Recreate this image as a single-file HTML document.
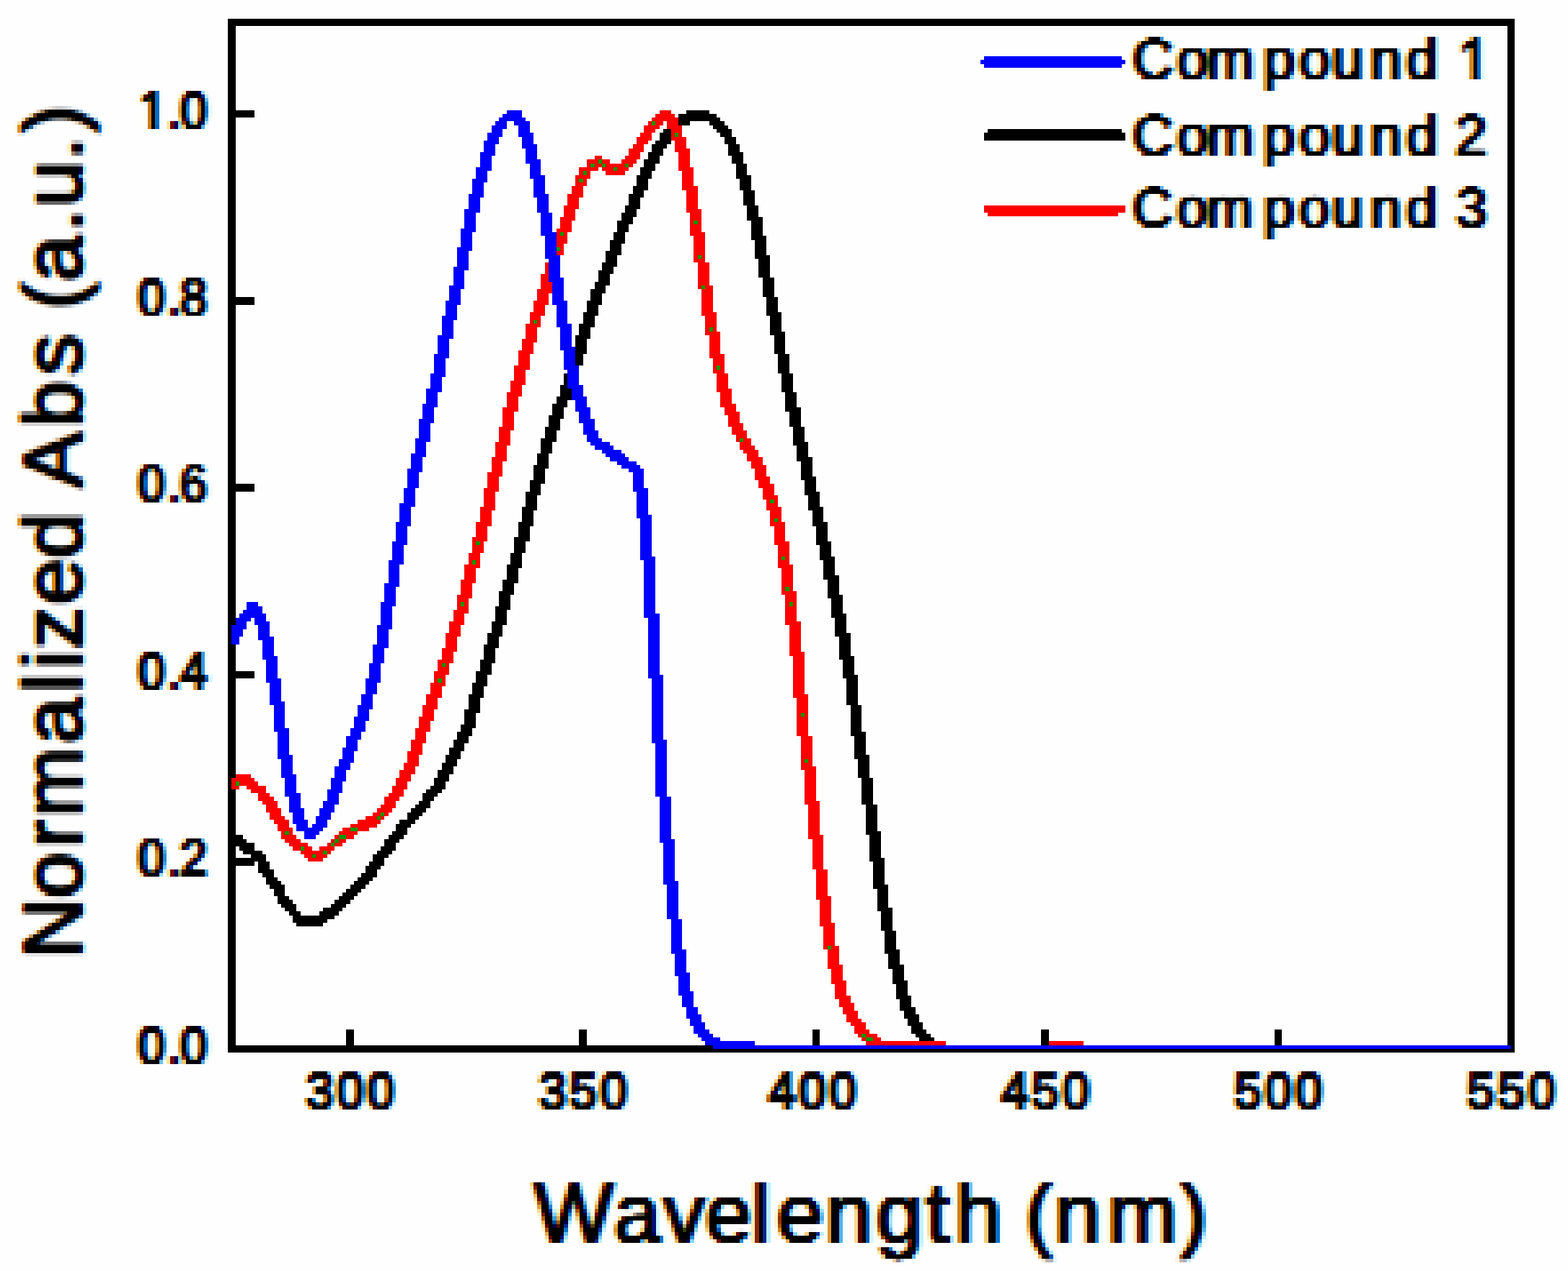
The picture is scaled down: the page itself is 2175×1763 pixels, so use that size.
<!DOCTYPE html>
<html lang="en"><head><meta charset="utf-8"><title>Normalized absorption spectra</title>
<style>html,body{margin:0;padding:0;background:#fefefe}body{width:2175px;height:1763px;overflow:hidden}svg{display:block}text{font-family:"Liberation Sans",Arial,Helvetica,sans-serif;fill:#000;font-kerning:none;text-rendering:geometricPrecision;white-space:pre}text{stroke:#000;stroke-linejoin:round}.tk{stroke-width:3px}.ti{stroke-width:2.5px}.lg{stroke-width:2.5px}</style></head><body>
<svg width="2175" height="1763" viewBox="0 0 2175 1763">
<defs><filter id="ct" filterUnits="userSpaceOnUse" x="170" y="0" width="2005" height="1763" color-interpolation-filters="sRGB">
<feFlood x="210" y="25" width="1" height="90" flood-color="rgb(204,0,0)" result="hc0"/>
<feFlood x="211" y="25" width="1" height="90" flood-color="rgb(172,0,0)" result="hc1"/>
<feFlood x="212" y="25" width="1" height="90" flood-color="rgb(140,0,0)" result="hc2"/>
<feFlood x="213" y="25" width="1" height="90" flood-color="rgb(108,0,0)" result="hc3"/>
<feFlood x="214" y="25" width="1" height="90" flood-color="rgb(76,0,0)" result="hc4"/>
<feFlood x="215" y="25" width="1" height="90" flood-color="rgb(204,0,0)" result="hc5"/>
<feFlood x="216" y="25" width="1" height="90" flood-color="rgb(172,0,0)" result="hc6"/>
<feFlood x="217" y="25" width="1" height="90" flood-color="rgb(140,0,0)" result="hc7"/>
<feFlood x="218" y="25" width="1" height="90" flood-color="rgb(108,0,0)" result="hc8"/>
<feFlood x="219" y="25" width="1" height="90" flood-color="rgb(76,0,0)" result="hc9"/>
<feFlood x="220" y="25" width="1" height="90" flood-color="rgb(45,0,0)" result="hc10"/>
<feFlood x="221" y="25" width="1" height="90" flood-color="rgb(204,0,0)" result="hc11"/>
<feFlood x="222" y="25" width="1" height="90" flood-color="rgb(172,0,0)" result="hc12"/>
<feFlood x="223" y="25" width="1" height="90" flood-color="rgb(140,0,0)" result="hc13"/>
<feFlood x="224" y="25" width="1" height="90" flood-color="rgb(108,0,0)" result="hc14"/>
<feFlood x="225" y="25" width="1" height="90" flood-color="rgb(76,0,0)" result="hc15"/>
<feFlood x="226" y="25" width="1" height="90" flood-color="rgb(204,0,0)" result="hc16"/>
<feFlood x="227" y="25" width="1" height="90" flood-color="rgb(172,0,0)" result="hc17"/>
<feFlood x="228" y="25" width="1" height="90" flood-color="rgb(140,0,0)" result="hc18"/>
<feFlood x="229" y="25" width="1" height="90" flood-color="rgb(108,0,0)" result="hc19"/>
<feFlood x="230" y="25" width="1" height="90" flood-color="rgb(76,0,0)" result="hc20"/>
<feFlood x="231" y="25" width="1" height="90" flood-color="rgb(204,0,0)" result="hc21"/>
<feFlood x="232" y="25" width="1" height="90" flood-color="rgb(172,0,0)" result="hc22"/>
<feFlood x="233" y="25" width="1" height="90" flood-color="rgb(140,0,0)" result="hc23"/>
<feFlood x="234" y="25" width="1" height="90" flood-color="rgb(108,0,0)" result="hc24"/>
<feFlood x="235" y="25" width="1" height="90" flood-color="rgb(76,0,0)" result="hc25"/>
<feFlood x="236" y="25" width="1" height="90" flood-color="rgb(204,0,0)" result="hc26"/>
<feFlood x="237" y="25" width="1" height="90" flood-color="rgb(172,0,0)" result="hc27"/>
<feFlood x="238" y="25" width="1" height="90" flood-color="rgb(140,0,0)" result="hc28"/>
<feFlood x="239" y="25" width="1" height="90" flood-color="rgb(108,0,0)" result="hc29"/>
<feFlood x="240" y="25" width="1" height="90" flood-color="rgb(76,0,0)" result="hc30"/>
<feFlood x="241" y="25" width="1" height="90" flood-color="rgb(45,0,0)" result="hc31"/>
<feFlood x="242" y="25" width="1" height="90" flood-color="rgb(204,0,0)" result="hc32"/>
<feFlood x="243" y="25" width="1" height="90" flood-color="rgb(172,0,0)" result="hc33"/>
<feFlood x="244" y="25" width="1" height="90" flood-color="rgb(140,0,0)" result="hc34"/>
<feFlood x="245" y="25" width="1" height="90" flood-color="rgb(108,0,0)" result="hc35"/>
<feFlood x="246" y="25" width="1" height="90" flood-color="rgb(76,0,0)" result="hc36"/>
<feFlood x="247" y="25" width="1" height="90" flood-color="rgb(204,0,0)" result="hc37"/>
<feFlood x="248" y="25" width="1" height="90" flood-color="rgb(172,0,0)" result="hc38"/>
<feFlood x="249" y="25" width="1" height="90" flood-color="rgb(140,0,0)" result="hc39"/>
<feFlood x="250" y="25" width="1" height="90" flood-color="rgb(108,0,0)" result="hc40"/>
<feFlood x="251" y="25" width="1" height="90" flood-color="rgb(76,0,0)" result="hc41"/>
<feFlood x="252" y="25" width="1" height="90" flood-color="rgb(204,0,0)" result="hc42"/>
<feFlood x="253" y="25" width="1" height="90" flood-color="rgb(172,0,0)" result="hc43"/>
<feFlood x="254" y="25" width="1" height="90" flood-color="rgb(140,0,0)" result="hc44"/>
<feFlood x="255" y="25" width="1" height="90" flood-color="rgb(108,0,0)" result="hc45"/>
<feFlood x="256" y="25" width="1" height="90" flood-color="rgb(76,0,0)" result="hc46"/>
<feFlood x="257" y="25" width="1" height="90" flood-color="rgb(45,0,0)" result="hc47"/>
<feFlood x="258" y="25" width="1" height="90" flood-color="rgb(204,0,0)" result="hc48"/>
<feFlood x="259" y="25" width="1" height="90" flood-color="rgb(172,0,0)" result="hc49"/>
<feFlood x="260" y="25" width="1" height="90" flood-color="rgb(140,0,0)" result="hc50"/>
<feFlood x="261" y="25" width="1" height="90" flood-color="rgb(108,0,0)" result="hc51"/>
<feFlood x="262" y="25" width="1" height="90" flood-color="rgb(76,0,0)" result="hc52"/>
<feMerge x="210" y="25" width="53" height="90" result="htx"><feMergeNode in="hc0"/><feMergeNode in="hc1"/><feMergeNode in="hc2"/><feMergeNode in="hc3"/><feMergeNode in="hc4"/><feMergeNode in="hc5"/><feMergeNode in="hc6"/><feMergeNode in="hc7"/><feMergeNode in="hc8"/><feMergeNode in="hc9"/><feMergeNode in="hc10"/><feMergeNode in="hc11"/><feMergeNode in="hc12"/><feMergeNode in="hc13"/><feMergeNode in="hc14"/><feMergeNode in="hc15"/><feMergeNode in="hc16"/><feMergeNode in="hc17"/><feMergeNode in="hc18"/><feMergeNode in="hc19"/><feMergeNode in="hc20"/><feMergeNode in="hc21"/><feMergeNode in="hc22"/><feMergeNode in="hc23"/><feMergeNode in="hc24"/><feMergeNode in="hc25"/><feMergeNode in="hc26"/><feMergeNode in="hc27"/><feMergeNode in="hc28"/><feMergeNode in="hc29"/><feMergeNode in="hc30"/><feMergeNode in="hc31"/><feMergeNode in="hc32"/><feMergeNode in="hc33"/><feMergeNode in="hc34"/><feMergeNode in="hc35"/><feMergeNode in="hc36"/><feMergeNode in="hc37"/><feMergeNode in="hc38"/><feMergeNode in="hc39"/><feMergeNode in="hc40"/><feMergeNode in="hc41"/><feMergeNode in="hc42"/><feMergeNode in="hc43"/><feMergeNode in="hc44"/><feMergeNode in="hc45"/><feMergeNode in="hc46"/><feMergeNode in="hc47"/><feMergeNode in="hc48"/><feMergeNode in="hc49"/><feMergeNode in="hc50"/><feMergeNode in="hc51"/><feMergeNode in="hc52"/></feMerge>
<feFlood x="210" y="25" width="53" height="1" flood-color="rgb(0,204,0)" result="hr0"/>
<feFlood x="210" y="26" width="53" height="1" flood-color="rgb(0,172,0)" result="hr1"/>
<feFlood x="210" y="27" width="53" height="1" flood-color="rgb(0,140,0)" result="hr2"/>
<feFlood x="210" y="28" width="53" height="1" flood-color="rgb(0,108,0)" result="hr3"/>
<feFlood x="210" y="29" width="53" height="1" flood-color="rgb(0,76,0)" result="hr4"/>
<feFlood x="210" y="30" width="53" height="1" flood-color="rgb(0,204,0)" result="hr5"/>
<feFlood x="210" y="31" width="53" height="1" flood-color="rgb(0,172,0)" result="hr6"/>
<feFlood x="210" y="32" width="53" height="1" flood-color="rgb(0,140,0)" result="hr7"/>
<feFlood x="210" y="33" width="53" height="1" flood-color="rgb(0,108,0)" result="hr8"/>
<feFlood x="210" y="34" width="53" height="1" flood-color="rgb(0,76,0)" result="hr9"/>
<feFlood x="210" y="35" width="53" height="1" flood-color="rgb(0,45,0)" result="hr10"/>
<feFlood x="210" y="36" width="53" height="1" flood-color="rgb(0,204,0)" result="hr11"/>
<feFlood x="210" y="37" width="53" height="1" flood-color="rgb(0,172,0)" result="hr12"/>
<feFlood x="210" y="38" width="53" height="1" flood-color="rgb(0,140,0)" result="hr13"/>
<feFlood x="210" y="39" width="53" height="1" flood-color="rgb(0,108,0)" result="hr14"/>
<feFlood x="210" y="40" width="53" height="1" flood-color="rgb(0,76,0)" result="hr15"/>
<feFlood x="210" y="41" width="53" height="1" flood-color="rgb(0,204,0)" result="hr16"/>
<feFlood x="210" y="42" width="53" height="1" flood-color="rgb(0,172,0)" result="hr17"/>
<feFlood x="210" y="43" width="53" height="1" flood-color="rgb(0,140,0)" result="hr18"/>
<feFlood x="210" y="44" width="53" height="1" flood-color="rgb(0,108,0)" result="hr19"/>
<feFlood x="210" y="45" width="53" height="1" flood-color="rgb(0,76,0)" result="hr20"/>
<feFlood x="210" y="46" width="53" height="1" flood-color="rgb(0,204,0)" result="hr21"/>
<feFlood x="210" y="47" width="53" height="1" flood-color="rgb(0,172,0)" result="hr22"/>
<feFlood x="210" y="48" width="53" height="1" flood-color="rgb(0,140,0)" result="hr23"/>
<feFlood x="210" y="49" width="53" height="1" flood-color="rgb(0,108,0)" result="hr24"/>
<feFlood x="210" y="50" width="53" height="1" flood-color="rgb(0,76,0)" result="hr25"/>
<feFlood x="210" y="51" width="53" height="1" flood-color="rgb(0,204,0)" result="hr26"/>
<feFlood x="210" y="52" width="53" height="1" flood-color="rgb(0,172,0)" result="hr27"/>
<feFlood x="210" y="53" width="53" height="1" flood-color="rgb(0,140,0)" result="hr28"/>
<feFlood x="210" y="54" width="53" height="1" flood-color="rgb(0,108,0)" result="hr29"/>
<feFlood x="210" y="55" width="53" height="1" flood-color="rgb(0,76,0)" result="hr30"/>
<feFlood x="210" y="56" width="53" height="1" flood-color="rgb(0,45,0)" result="hr31"/>
<feFlood x="210" y="57" width="53" height="1" flood-color="rgb(0,204,0)" result="hr32"/>
<feFlood x="210" y="58" width="53" height="1" flood-color="rgb(0,172,0)" result="hr33"/>
<feFlood x="210" y="59" width="53" height="1" flood-color="rgb(0,140,0)" result="hr34"/>
<feFlood x="210" y="60" width="53" height="1" flood-color="rgb(0,108,0)" result="hr35"/>
<feFlood x="210" y="61" width="53" height="1" flood-color="rgb(0,76,0)" result="hr36"/>
<feFlood x="210" y="62" width="53" height="1" flood-color="rgb(0,204,0)" result="hr37"/>
<feFlood x="210" y="63" width="53" height="1" flood-color="rgb(0,172,0)" result="hr38"/>
<feFlood x="210" y="64" width="53" height="1" flood-color="rgb(0,140,0)" result="hr39"/>
<feFlood x="210" y="65" width="53" height="1" flood-color="rgb(0,108,0)" result="hr40"/>
<feFlood x="210" y="66" width="53" height="1" flood-color="rgb(0,76,0)" result="hr41"/>
<feFlood x="210" y="67" width="53" height="1" flood-color="rgb(0,204,0)" result="hr42"/>
<feFlood x="210" y="68" width="53" height="1" flood-color="rgb(0,172,0)" result="hr43"/>
<feFlood x="210" y="69" width="53" height="1" flood-color="rgb(0,140,0)" result="hr44"/>
<feFlood x="210" y="70" width="53" height="1" flood-color="rgb(0,108,0)" result="hr45"/>
<feFlood x="210" y="71" width="53" height="1" flood-color="rgb(0,76,0)" result="hr46"/>
<feFlood x="210" y="72" width="53" height="1" flood-color="rgb(0,45,0)" result="hr47"/>
<feFlood x="210" y="73" width="53" height="1" flood-color="rgb(0,204,0)" result="hr48"/>
<feFlood x="210" y="74" width="53" height="1" flood-color="rgb(0,172,0)" result="hr49"/>
<feFlood x="210" y="75" width="53" height="1" flood-color="rgb(0,140,0)" result="hr50"/>
<feFlood x="210" y="76" width="53" height="1" flood-color="rgb(0,108,0)" result="hr51"/>
<feFlood x="210" y="77" width="53" height="1" flood-color="rgb(0,76,0)" result="hr52"/>
<feFlood x="210" y="78" width="53" height="1" flood-color="rgb(0,204,0)" result="hr53"/>
<feFlood x="210" y="79" width="53" height="1" flood-color="rgb(0,172,0)" result="hr54"/>
<feFlood x="210" y="80" width="53" height="1" flood-color="rgb(0,140,0)" result="hr55"/>
<feFlood x="210" y="81" width="53" height="1" flood-color="rgb(0,108,0)" result="hr56"/>
<feFlood x="210" y="82" width="53" height="1" flood-color="rgb(0,76,0)" result="hr57"/>
<feFlood x="210" y="83" width="53" height="1" flood-color="rgb(0,204,0)" result="hr58"/>
<feFlood x="210" y="84" width="53" height="1" flood-color="rgb(0,172,0)" result="hr59"/>
<feFlood x="210" y="85" width="53" height="1" flood-color="rgb(0,140,0)" result="hr60"/>
<feFlood x="210" y="86" width="53" height="1" flood-color="rgb(0,108,0)" result="hr61"/>
<feFlood x="210" y="87" width="53" height="1" flood-color="rgb(0,76,0)" result="hr62"/>
<feFlood x="210" y="88" width="53" height="1" flood-color="rgb(0,45,0)" result="hr63"/>
<feFlood x="210" y="89" width="53" height="1" flood-color="rgb(0,204,0)" result="hr64"/>
<feFlood x="210" y="90" width="53" height="1" flood-color="rgb(0,172,0)" result="hr65"/>
<feFlood x="210" y="91" width="53" height="1" flood-color="rgb(0,140,0)" result="hr66"/>
<feFlood x="210" y="92" width="53" height="1" flood-color="rgb(0,108,0)" result="hr67"/>
<feFlood x="210" y="93" width="53" height="1" flood-color="rgb(0,76,0)" result="hr68"/>
<feFlood x="210" y="94" width="53" height="1" flood-color="rgb(0,204,0)" result="hr69"/>
<feFlood x="210" y="95" width="53" height="1" flood-color="rgb(0,172,0)" result="hr70"/>
<feFlood x="210" y="96" width="53" height="1" flood-color="rgb(0,140,0)" result="hr71"/>
<feFlood x="210" y="97" width="53" height="1" flood-color="rgb(0,108,0)" result="hr72"/>
<feFlood x="210" y="98" width="53" height="1" flood-color="rgb(0,76,0)" result="hr73"/>
<feFlood x="210" y="99" width="53" height="1" flood-color="rgb(0,204,0)" result="hr74"/>
<feFlood x="210" y="100" width="53" height="1" flood-color="rgb(0,172,0)" result="hr75"/>
<feFlood x="210" y="101" width="53" height="1" flood-color="rgb(0,140,0)" result="hr76"/>
<feFlood x="210" y="102" width="53" height="1" flood-color="rgb(0,108,0)" result="hr77"/>
<feFlood x="210" y="103" width="53" height="1" flood-color="rgb(0,76,0)" result="hr78"/>
<feFlood x="210" y="104" width="53" height="1" flood-color="rgb(0,204,0)" result="hr79"/>
<feFlood x="210" y="105" width="53" height="1" flood-color="rgb(0,172,0)" result="hr80"/>
<feFlood x="210" y="106" width="53" height="1" flood-color="rgb(0,140,0)" result="hr81"/>
<feFlood x="210" y="107" width="53" height="1" flood-color="rgb(0,108,0)" result="hr82"/>
<feFlood x="210" y="108" width="53" height="1" flood-color="rgb(0,76,0)" result="hr83"/>
<feFlood x="210" y="109" width="53" height="1" flood-color="rgb(0,45,0)" result="hr84"/>
<feFlood x="210" y="110" width="53" height="1" flood-color="rgb(0,204,0)" result="hr85"/>
<feFlood x="210" y="111" width="53" height="1" flood-color="rgb(0,172,0)" result="hr86"/>
<feFlood x="210" y="112" width="53" height="1" flood-color="rgb(0,140,0)" result="hr87"/>
<feFlood x="210" y="113" width="53" height="1" flood-color="rgb(0,108,0)" result="hr88"/>
<feFlood x="210" y="114" width="53" height="1" flood-color="rgb(0,76,0)" result="hr89"/>
<feMerge x="210" y="25" width="53" height="90" result="hty"><feMergeNode in="hr0"/><feMergeNode in="hr1"/><feMergeNode in="hr2"/><feMergeNode in="hr3"/><feMergeNode in="hr4"/><feMergeNode in="hr5"/><feMergeNode in="hr6"/><feMergeNode in="hr7"/><feMergeNode in="hr8"/><feMergeNode in="hr9"/><feMergeNode in="hr10"/><feMergeNode in="hr11"/><feMergeNode in="hr12"/><feMergeNode in="hr13"/><feMergeNode in="hr14"/><feMergeNode in="hr15"/><feMergeNode in="hr16"/><feMergeNode in="hr17"/><feMergeNode in="hr18"/><feMergeNode in="hr19"/><feMergeNode in="hr20"/><feMergeNode in="hr21"/><feMergeNode in="hr22"/><feMergeNode in="hr23"/><feMergeNode in="hr24"/><feMergeNode in="hr25"/><feMergeNode in="hr26"/><feMergeNode in="hr27"/><feMergeNode in="hr28"/><feMergeNode in="hr29"/><feMergeNode in="hr30"/><feMergeNode in="hr31"/><feMergeNode in="hr32"/><feMergeNode in="hr33"/><feMergeNode in="hr34"/><feMergeNode in="hr35"/><feMergeNode in="hr36"/><feMergeNode in="hr37"/><feMergeNode in="hr38"/><feMergeNode in="hr39"/><feMergeNode in="hr40"/><feMergeNode in="hr41"/><feMergeNode in="hr42"/><feMergeNode in="hr43"/><feMergeNode in="hr44"/><feMergeNode in="hr45"/><feMergeNode in="hr46"/><feMergeNode in="hr47"/><feMergeNode in="hr48"/><feMergeNode in="hr49"/><feMergeNode in="hr50"/><feMergeNode in="hr51"/><feMergeNode in="hr52"/><feMergeNode in="hr53"/><feMergeNode in="hr54"/><feMergeNode in="hr55"/><feMergeNode in="hr56"/><feMergeNode in="hr57"/><feMergeNode in="hr58"/><feMergeNode in="hr59"/><feMergeNode in="hr60"/><feMergeNode in="hr61"/><feMergeNode in="hr62"/><feMergeNode in="hr63"/><feMergeNode in="hr64"/><feMergeNode in="hr65"/><feMergeNode in="hr66"/><feMergeNode in="hr67"/><feMergeNode in="hr68"/><feMergeNode in="hr69"/><feMergeNode in="hr70"/><feMergeNode in="hr71"/><feMergeNode in="hr72"/><feMergeNode in="hr73"/><feMergeNode in="hr74"/><feMergeNode in="hr75"/><feMergeNode in="hr76"/><feMergeNode in="hr77"/><feMergeNode in="hr78"/><feMergeNode in="hr79"/><feMergeNode in="hr80"/><feMergeNode in="hr81"/><feMergeNode in="hr82"/><feMergeNode in="hr83"/><feMergeNode in="hr84"/><feMergeNode in="hr85"/><feMergeNode in="hr86"/><feMergeNode in="hr87"/><feMergeNode in="hr88"/><feMergeNode in="hr89"/></feMerge>
<feComposite in="htx" in2="hty" operator="arithmetic" k1="0" k2="1" k3="1" k4="0" x="210" y="25" width="53" height="90" result="ht"/>
<feTile in="ht" x="170" y="0" width="2005" height="1763" result="map"/>
<feGaussianBlur in="SourceAlpha" stdDeviation="2.5 0.6" result="a0"/>
<feComponentTransfer in="a0" result="a"><feFuncA type="linear" slope="1.35" intercept="0"/></feComponentTransfer>
<feOffset in="a" dx="1.766" dy="0" result="ar"/>
<feOffset in="a" dx="-1.766" dy="0" result="ab"/>
<feDisplacementMap in="ar" in2="map" scale="8" xChannelSelector="R" yChannelSelector="G" result="pr"/>
<feDisplacementMap in="a" in2="map" scale="8" xChannelSelector="R" yChannelSelector="G" result="pg"/>
<feDisplacementMap in="ab" in2="map" scale="8" xChannelSelector="R" yChannelSelector="G" result="pb"/>
<feColorMatrix in="pr" type="matrix" values="0 0 0 -0.9961 0.9961  0 0 0 0 0  0 0 0 0 0  0 0 0 0 1" result="cr"/>
<feColorMatrix in="pg" type="matrix" values="0 0 0 0 0  0 0 0 -0.9961 0.9961  0 0 0 0 0  0 0 0 0 1" result="cg"/>
<feColorMatrix in="pb" type="matrix" values="0 0 0 0 0  0 0 0 0 0  0 0 0 -0.9961 0.9961  0 0 0 0 1" result="cb"/>
<feComposite in="cr" in2="cg" operator="arithmetic" k1="0" k2="1" k3="1" k4="0" result="rg"/>
<feComposite in="rg" in2="cb" operator="arithmetic" k1="0" k2="1" k3="1" k4="0"/>
</filter><filter id="cv" filterUnits="userSpaceOnUse" x="0" y="0" width="170" height="1763" color-interpolation-filters="sRGB">
<feFlood x="51" y="25" width="1" height="90" flood-color="rgb(204,0,0)" result="vc0"/>
<feFlood x="52" y="25" width="1" height="90" flood-color="rgb(172,0,0)" result="vc1"/>
<feFlood x="53" y="25" width="1" height="90" flood-color="rgb(140,0,0)" result="vc2"/>
<feFlood x="54" y="25" width="1" height="90" flood-color="rgb(108,0,0)" result="vc3"/>
<feFlood x="55" y="25" width="1" height="90" flood-color="rgb(76,0,0)" result="vc4"/>
<feFlood x="56" y="25" width="1" height="90" flood-color="rgb(204,0,0)" result="vc5"/>
<feFlood x="57" y="25" width="1" height="90" flood-color="rgb(172,0,0)" result="vc6"/>
<feFlood x="58" y="25" width="1" height="90" flood-color="rgb(140,0,0)" result="vc7"/>
<feFlood x="59" y="25" width="1" height="90" flood-color="rgb(108,0,0)" result="vc8"/>
<feFlood x="60" y="25" width="1" height="90" flood-color="rgb(76,0,0)" result="vc9"/>
<feFlood x="61" y="25" width="1" height="90" flood-color="rgb(45,0,0)" result="vc10"/>
<feFlood x="62" y="25" width="1" height="90" flood-color="rgb(204,0,0)" result="vc11"/>
<feFlood x="63" y="25" width="1" height="90" flood-color="rgb(172,0,0)" result="vc12"/>
<feFlood x="64" y="25" width="1" height="90" flood-color="rgb(140,0,0)" result="vc13"/>
<feFlood x="65" y="25" width="1" height="90" flood-color="rgb(108,0,0)" result="vc14"/>
<feFlood x="66" y="25" width="1" height="90" flood-color="rgb(76,0,0)" result="vc15"/>
<feFlood x="67" y="25" width="1" height="90" flood-color="rgb(204,0,0)" result="vc16"/>
<feFlood x="68" y="25" width="1" height="90" flood-color="rgb(172,0,0)" result="vc17"/>
<feFlood x="69" y="25" width="1" height="90" flood-color="rgb(140,0,0)" result="vc18"/>
<feFlood x="70" y="25" width="1" height="90" flood-color="rgb(108,0,0)" result="vc19"/>
<feFlood x="71" y="25" width="1" height="90" flood-color="rgb(76,0,0)" result="vc20"/>
<feFlood x="72" y="25" width="1" height="90" flood-color="rgb(204,0,0)" result="vc21"/>
<feFlood x="73" y="25" width="1" height="90" flood-color="rgb(172,0,0)" result="vc22"/>
<feFlood x="74" y="25" width="1" height="90" flood-color="rgb(140,0,0)" result="vc23"/>
<feFlood x="75" y="25" width="1" height="90" flood-color="rgb(108,0,0)" result="vc24"/>
<feFlood x="76" y="25" width="1" height="90" flood-color="rgb(76,0,0)" result="vc25"/>
<feFlood x="77" y="25" width="1" height="90" flood-color="rgb(204,0,0)" result="vc26"/>
<feFlood x="78" y="25" width="1" height="90" flood-color="rgb(172,0,0)" result="vc27"/>
<feFlood x="79" y="25" width="1" height="90" flood-color="rgb(140,0,0)" result="vc28"/>
<feFlood x="80" y="25" width="1" height="90" flood-color="rgb(108,0,0)" result="vc29"/>
<feFlood x="81" y="25" width="1" height="90" flood-color="rgb(76,0,0)" result="vc30"/>
<feFlood x="82" y="25" width="1" height="90" flood-color="rgb(45,0,0)" result="vc31"/>
<feFlood x="83" y="25" width="1" height="90" flood-color="rgb(204,0,0)" result="vc32"/>
<feFlood x="84" y="25" width="1" height="90" flood-color="rgb(172,0,0)" result="vc33"/>
<feFlood x="85" y="25" width="1" height="90" flood-color="rgb(140,0,0)" result="vc34"/>
<feFlood x="86" y="25" width="1" height="90" flood-color="rgb(108,0,0)" result="vc35"/>
<feFlood x="87" y="25" width="1" height="90" flood-color="rgb(76,0,0)" result="vc36"/>
<feFlood x="88" y="25" width="1" height="90" flood-color="rgb(204,0,0)" result="vc37"/>
<feFlood x="89" y="25" width="1" height="90" flood-color="rgb(172,0,0)" result="vc38"/>
<feFlood x="90" y="25" width="1" height="90" flood-color="rgb(140,0,0)" result="vc39"/>
<feFlood x="91" y="25" width="1" height="90" flood-color="rgb(108,0,0)" result="vc40"/>
<feFlood x="92" y="25" width="1" height="90" flood-color="rgb(76,0,0)" result="vc41"/>
<feFlood x="93" y="25" width="1" height="90" flood-color="rgb(204,0,0)" result="vc42"/>
<feFlood x="94" y="25" width="1" height="90" flood-color="rgb(172,0,0)" result="vc43"/>
<feFlood x="95" y="25" width="1" height="90" flood-color="rgb(140,0,0)" result="vc44"/>
<feFlood x="96" y="25" width="1" height="90" flood-color="rgb(108,0,0)" result="vc45"/>
<feFlood x="97" y="25" width="1" height="90" flood-color="rgb(76,0,0)" result="vc46"/>
<feFlood x="98" y="25" width="1" height="90" flood-color="rgb(45,0,0)" result="vc47"/>
<feFlood x="99" y="25" width="1" height="90" flood-color="rgb(204,0,0)" result="vc48"/>
<feFlood x="100" y="25" width="1" height="90" flood-color="rgb(172,0,0)" result="vc49"/>
<feFlood x="101" y="25" width="1" height="90" flood-color="rgb(140,0,0)" result="vc50"/>
<feFlood x="102" y="25" width="1" height="90" flood-color="rgb(108,0,0)" result="vc51"/>
<feFlood x="103" y="25" width="1" height="90" flood-color="rgb(76,0,0)" result="vc52"/>
<feMerge x="51" y="25" width="53" height="90" result="vtx"><feMergeNode in="vc0"/><feMergeNode in="vc1"/><feMergeNode in="vc2"/><feMergeNode in="vc3"/><feMergeNode in="vc4"/><feMergeNode in="vc5"/><feMergeNode in="vc6"/><feMergeNode in="vc7"/><feMergeNode in="vc8"/><feMergeNode in="vc9"/><feMergeNode in="vc10"/><feMergeNode in="vc11"/><feMergeNode in="vc12"/><feMergeNode in="vc13"/><feMergeNode in="vc14"/><feMergeNode in="vc15"/><feMergeNode in="vc16"/><feMergeNode in="vc17"/><feMergeNode in="vc18"/><feMergeNode in="vc19"/><feMergeNode in="vc20"/><feMergeNode in="vc21"/><feMergeNode in="vc22"/><feMergeNode in="vc23"/><feMergeNode in="vc24"/><feMergeNode in="vc25"/><feMergeNode in="vc26"/><feMergeNode in="vc27"/><feMergeNode in="vc28"/><feMergeNode in="vc29"/><feMergeNode in="vc30"/><feMergeNode in="vc31"/><feMergeNode in="vc32"/><feMergeNode in="vc33"/><feMergeNode in="vc34"/><feMergeNode in="vc35"/><feMergeNode in="vc36"/><feMergeNode in="vc37"/><feMergeNode in="vc38"/><feMergeNode in="vc39"/><feMergeNode in="vc40"/><feMergeNode in="vc41"/><feMergeNode in="vc42"/><feMergeNode in="vc43"/><feMergeNode in="vc44"/><feMergeNode in="vc45"/><feMergeNode in="vc46"/><feMergeNode in="vc47"/><feMergeNode in="vc48"/><feMergeNode in="vc49"/><feMergeNode in="vc50"/><feMergeNode in="vc51"/><feMergeNode in="vc52"/></feMerge>
<feFlood x="51" y="25" width="53" height="1" flood-color="rgb(0,204,0)" result="vr0"/>
<feFlood x="51" y="26" width="53" height="1" flood-color="rgb(0,172,0)" result="vr1"/>
<feFlood x="51" y="27" width="53" height="1" flood-color="rgb(0,140,0)" result="vr2"/>
<feFlood x="51" y="28" width="53" height="1" flood-color="rgb(0,108,0)" result="vr3"/>
<feFlood x="51" y="29" width="53" height="1" flood-color="rgb(0,76,0)" result="vr4"/>
<feFlood x="51" y="30" width="53" height="1" flood-color="rgb(0,204,0)" result="vr5"/>
<feFlood x="51" y="31" width="53" height="1" flood-color="rgb(0,172,0)" result="vr6"/>
<feFlood x="51" y="32" width="53" height="1" flood-color="rgb(0,140,0)" result="vr7"/>
<feFlood x="51" y="33" width="53" height="1" flood-color="rgb(0,108,0)" result="vr8"/>
<feFlood x="51" y="34" width="53" height="1" flood-color="rgb(0,76,0)" result="vr9"/>
<feFlood x="51" y="35" width="53" height="1" flood-color="rgb(0,45,0)" result="vr10"/>
<feFlood x="51" y="36" width="53" height="1" flood-color="rgb(0,204,0)" result="vr11"/>
<feFlood x="51" y="37" width="53" height="1" flood-color="rgb(0,172,0)" result="vr12"/>
<feFlood x="51" y="38" width="53" height="1" flood-color="rgb(0,140,0)" result="vr13"/>
<feFlood x="51" y="39" width="53" height="1" flood-color="rgb(0,108,0)" result="vr14"/>
<feFlood x="51" y="40" width="53" height="1" flood-color="rgb(0,76,0)" result="vr15"/>
<feFlood x="51" y="41" width="53" height="1" flood-color="rgb(0,204,0)" result="vr16"/>
<feFlood x="51" y="42" width="53" height="1" flood-color="rgb(0,172,0)" result="vr17"/>
<feFlood x="51" y="43" width="53" height="1" flood-color="rgb(0,140,0)" result="vr18"/>
<feFlood x="51" y="44" width="53" height="1" flood-color="rgb(0,108,0)" result="vr19"/>
<feFlood x="51" y="45" width="53" height="1" flood-color="rgb(0,76,0)" result="vr20"/>
<feFlood x="51" y="46" width="53" height="1" flood-color="rgb(0,204,0)" result="vr21"/>
<feFlood x="51" y="47" width="53" height="1" flood-color="rgb(0,172,0)" result="vr22"/>
<feFlood x="51" y="48" width="53" height="1" flood-color="rgb(0,140,0)" result="vr23"/>
<feFlood x="51" y="49" width="53" height="1" flood-color="rgb(0,108,0)" result="vr24"/>
<feFlood x="51" y="50" width="53" height="1" flood-color="rgb(0,76,0)" result="vr25"/>
<feFlood x="51" y="51" width="53" height="1" flood-color="rgb(0,204,0)" result="vr26"/>
<feFlood x="51" y="52" width="53" height="1" flood-color="rgb(0,172,0)" result="vr27"/>
<feFlood x="51" y="53" width="53" height="1" flood-color="rgb(0,140,0)" result="vr28"/>
<feFlood x="51" y="54" width="53" height="1" flood-color="rgb(0,108,0)" result="vr29"/>
<feFlood x="51" y="55" width="53" height="1" flood-color="rgb(0,76,0)" result="vr30"/>
<feFlood x="51" y="56" width="53" height="1" flood-color="rgb(0,45,0)" result="vr31"/>
<feFlood x="51" y="57" width="53" height="1" flood-color="rgb(0,204,0)" result="vr32"/>
<feFlood x="51" y="58" width="53" height="1" flood-color="rgb(0,172,0)" result="vr33"/>
<feFlood x="51" y="59" width="53" height="1" flood-color="rgb(0,140,0)" result="vr34"/>
<feFlood x="51" y="60" width="53" height="1" flood-color="rgb(0,108,0)" result="vr35"/>
<feFlood x="51" y="61" width="53" height="1" flood-color="rgb(0,76,0)" result="vr36"/>
<feFlood x="51" y="62" width="53" height="1" flood-color="rgb(0,204,0)" result="vr37"/>
<feFlood x="51" y="63" width="53" height="1" flood-color="rgb(0,172,0)" result="vr38"/>
<feFlood x="51" y="64" width="53" height="1" flood-color="rgb(0,140,0)" result="vr39"/>
<feFlood x="51" y="65" width="53" height="1" flood-color="rgb(0,108,0)" result="vr40"/>
<feFlood x="51" y="66" width="53" height="1" flood-color="rgb(0,76,0)" result="vr41"/>
<feFlood x="51" y="67" width="53" height="1" flood-color="rgb(0,204,0)" result="vr42"/>
<feFlood x="51" y="68" width="53" height="1" flood-color="rgb(0,172,0)" result="vr43"/>
<feFlood x="51" y="69" width="53" height="1" flood-color="rgb(0,140,0)" result="vr44"/>
<feFlood x="51" y="70" width="53" height="1" flood-color="rgb(0,108,0)" result="vr45"/>
<feFlood x="51" y="71" width="53" height="1" flood-color="rgb(0,76,0)" result="vr46"/>
<feFlood x="51" y="72" width="53" height="1" flood-color="rgb(0,45,0)" result="vr47"/>
<feFlood x="51" y="73" width="53" height="1" flood-color="rgb(0,204,0)" result="vr48"/>
<feFlood x="51" y="74" width="53" height="1" flood-color="rgb(0,172,0)" result="vr49"/>
<feFlood x="51" y="75" width="53" height="1" flood-color="rgb(0,140,0)" result="vr50"/>
<feFlood x="51" y="76" width="53" height="1" flood-color="rgb(0,108,0)" result="vr51"/>
<feFlood x="51" y="77" width="53" height="1" flood-color="rgb(0,76,0)" result="vr52"/>
<feFlood x="51" y="78" width="53" height="1" flood-color="rgb(0,204,0)" result="vr53"/>
<feFlood x="51" y="79" width="53" height="1" flood-color="rgb(0,172,0)" result="vr54"/>
<feFlood x="51" y="80" width="53" height="1" flood-color="rgb(0,140,0)" result="vr55"/>
<feFlood x="51" y="81" width="53" height="1" flood-color="rgb(0,108,0)" result="vr56"/>
<feFlood x="51" y="82" width="53" height="1" flood-color="rgb(0,76,0)" result="vr57"/>
<feFlood x="51" y="83" width="53" height="1" flood-color="rgb(0,204,0)" result="vr58"/>
<feFlood x="51" y="84" width="53" height="1" flood-color="rgb(0,172,0)" result="vr59"/>
<feFlood x="51" y="85" width="53" height="1" flood-color="rgb(0,140,0)" result="vr60"/>
<feFlood x="51" y="86" width="53" height="1" flood-color="rgb(0,108,0)" result="vr61"/>
<feFlood x="51" y="87" width="53" height="1" flood-color="rgb(0,76,0)" result="vr62"/>
<feFlood x="51" y="88" width="53" height="1" flood-color="rgb(0,45,0)" result="vr63"/>
<feFlood x="51" y="89" width="53" height="1" flood-color="rgb(0,204,0)" result="vr64"/>
<feFlood x="51" y="90" width="53" height="1" flood-color="rgb(0,172,0)" result="vr65"/>
<feFlood x="51" y="91" width="53" height="1" flood-color="rgb(0,140,0)" result="vr66"/>
<feFlood x="51" y="92" width="53" height="1" flood-color="rgb(0,108,0)" result="vr67"/>
<feFlood x="51" y="93" width="53" height="1" flood-color="rgb(0,76,0)" result="vr68"/>
<feFlood x="51" y="94" width="53" height="1" flood-color="rgb(0,204,0)" result="vr69"/>
<feFlood x="51" y="95" width="53" height="1" flood-color="rgb(0,172,0)" result="vr70"/>
<feFlood x="51" y="96" width="53" height="1" flood-color="rgb(0,140,0)" result="vr71"/>
<feFlood x="51" y="97" width="53" height="1" flood-color="rgb(0,108,0)" result="vr72"/>
<feFlood x="51" y="98" width="53" height="1" flood-color="rgb(0,76,0)" result="vr73"/>
<feFlood x="51" y="99" width="53" height="1" flood-color="rgb(0,204,0)" result="vr74"/>
<feFlood x="51" y="100" width="53" height="1" flood-color="rgb(0,172,0)" result="vr75"/>
<feFlood x="51" y="101" width="53" height="1" flood-color="rgb(0,140,0)" result="vr76"/>
<feFlood x="51" y="102" width="53" height="1" flood-color="rgb(0,108,0)" result="vr77"/>
<feFlood x="51" y="103" width="53" height="1" flood-color="rgb(0,76,0)" result="vr78"/>
<feFlood x="51" y="104" width="53" height="1" flood-color="rgb(0,204,0)" result="vr79"/>
<feFlood x="51" y="105" width="53" height="1" flood-color="rgb(0,172,0)" result="vr80"/>
<feFlood x="51" y="106" width="53" height="1" flood-color="rgb(0,140,0)" result="vr81"/>
<feFlood x="51" y="107" width="53" height="1" flood-color="rgb(0,108,0)" result="vr82"/>
<feFlood x="51" y="108" width="53" height="1" flood-color="rgb(0,76,0)" result="vr83"/>
<feFlood x="51" y="109" width="53" height="1" flood-color="rgb(0,45,0)" result="vr84"/>
<feFlood x="51" y="110" width="53" height="1" flood-color="rgb(0,204,0)" result="vr85"/>
<feFlood x="51" y="111" width="53" height="1" flood-color="rgb(0,172,0)" result="vr86"/>
<feFlood x="51" y="112" width="53" height="1" flood-color="rgb(0,140,0)" result="vr87"/>
<feFlood x="51" y="113" width="53" height="1" flood-color="rgb(0,108,0)" result="vr88"/>
<feFlood x="51" y="114" width="53" height="1" flood-color="rgb(0,76,0)" result="vr89"/>
<feMerge x="51" y="25" width="53" height="90" result="vty"><feMergeNode in="vr0"/><feMergeNode in="vr1"/><feMergeNode in="vr2"/><feMergeNode in="vr3"/><feMergeNode in="vr4"/><feMergeNode in="vr5"/><feMergeNode in="vr6"/><feMergeNode in="vr7"/><feMergeNode in="vr8"/><feMergeNode in="vr9"/><feMergeNode in="vr10"/><feMergeNode in="vr11"/><feMergeNode in="vr12"/><feMergeNode in="vr13"/><feMergeNode in="vr14"/><feMergeNode in="vr15"/><feMergeNode in="vr16"/><feMergeNode in="vr17"/><feMergeNode in="vr18"/><feMergeNode in="vr19"/><feMergeNode in="vr20"/><feMergeNode in="vr21"/><feMergeNode in="vr22"/><feMergeNode in="vr23"/><feMergeNode in="vr24"/><feMergeNode in="vr25"/><feMergeNode in="vr26"/><feMergeNode in="vr27"/><feMergeNode in="vr28"/><feMergeNode in="vr29"/><feMergeNode in="vr30"/><feMergeNode in="vr31"/><feMergeNode in="vr32"/><feMergeNode in="vr33"/><feMergeNode in="vr34"/><feMergeNode in="vr35"/><feMergeNode in="vr36"/><feMergeNode in="vr37"/><feMergeNode in="vr38"/><feMergeNode in="vr39"/><feMergeNode in="vr40"/><feMergeNode in="vr41"/><feMergeNode in="vr42"/><feMergeNode in="vr43"/><feMergeNode in="vr44"/><feMergeNode in="vr45"/><feMergeNode in="vr46"/><feMergeNode in="vr47"/><feMergeNode in="vr48"/><feMergeNode in="vr49"/><feMergeNode in="vr50"/><feMergeNode in="vr51"/><feMergeNode in="vr52"/><feMergeNode in="vr53"/><feMergeNode in="vr54"/><feMergeNode in="vr55"/><feMergeNode in="vr56"/><feMergeNode in="vr57"/><feMergeNode in="vr58"/><feMergeNode in="vr59"/><feMergeNode in="vr60"/><feMergeNode in="vr61"/><feMergeNode in="vr62"/><feMergeNode in="vr63"/><feMergeNode in="vr64"/><feMergeNode in="vr65"/><feMergeNode in="vr66"/><feMergeNode in="vr67"/><feMergeNode in="vr68"/><feMergeNode in="vr69"/><feMergeNode in="vr70"/><feMergeNode in="vr71"/><feMergeNode in="vr72"/><feMergeNode in="vr73"/><feMergeNode in="vr74"/><feMergeNode in="vr75"/><feMergeNode in="vr76"/><feMergeNode in="vr77"/><feMergeNode in="vr78"/><feMergeNode in="vr79"/><feMergeNode in="vr80"/><feMergeNode in="vr81"/><feMergeNode in="vr82"/><feMergeNode in="vr83"/><feMergeNode in="vr84"/><feMergeNode in="vr85"/><feMergeNode in="vr86"/><feMergeNode in="vr87"/><feMergeNode in="vr88"/><feMergeNode in="vr89"/></feMerge>
<feComposite in="vtx" in2="vty" operator="arithmetic" k1="0" k2="1" k3="1" k4="0" x="51" y="25" width="53" height="90" result="vt"/>
<feTile in="vt" x="0" y="0" width="170" height="1763" result="map"/>
<feGaussianBlur in="SourceAlpha" stdDeviation="2 2" result="a0"/>
<feComponentTransfer in="a0" result="a"><feFuncA type="linear" slope="1.35" intercept="0"/></feComponentTransfer>
<feOffset in="a" dx="1.766" dy="0" result="ar"/>
<feOffset in="a" dx="-1.766" dy="0" result="ab"/>
<feDisplacementMap in="ar" in2="map" scale="8" xChannelSelector="R" yChannelSelector="G" result="pr"/>
<feDisplacementMap in="a" in2="map" scale="8" xChannelSelector="R" yChannelSelector="G" result="pg"/>
<feDisplacementMap in="ab" in2="map" scale="8" xChannelSelector="R" yChannelSelector="G" result="pb"/>
<feColorMatrix in="pr" type="matrix" values="0 0 0 -0.9961 0.9961  0 0 0 0 0  0 0 0 0 0  0 0 0 0 1" result="cr"/>
<feColorMatrix in="pg" type="matrix" values="0 0 0 0 0  0 0 0 -0.9961 0.9961  0 0 0 0 0  0 0 0 0 1" result="cg"/>
<feColorMatrix in="pb" type="matrix" values="0 0 0 0 0  0 0 0 0 0  0 0 0 -0.9961 0.9961  0 0 0 0 1" result="cb"/>
<feComposite in="cr" in2="cg" operator="arithmetic" k1="0" k2="1" k3="1" k4="0" result="rg"/>
<feComposite in="rg" in2="cb" operator="arithmetic" k1="0" k2="1" k3="1" k4="0"/>
</filter><clipPath id="k0" clipPathUnits="userSpaceOnUse"><path clip-rule="evenodd" d="M-9000 -9000H9000V9000H-9000ZM204.54 -9.99H225.1V10.5H204.54ZM234.79 -9.99H253.78V10.5H234.79Z"/></clipPath><clipPath id="k1" clipPathUnits="userSpaceOnUse"><path clip-rule="evenodd" d="M-9000 -9000H9000V9000H-9000ZM2018.88 99.27H2041.53V119.72H2018.88ZM2051.26 99.27H2072.21V119.72H2051.26Z"/></clipPath></defs>
<rect width="2175" height="1763" fill="#fefefe"/>
<g filter="url(#ct)">
<text class="tk" font-size="73.5" transform="translate(0 1538.3) scale(0.925 1)" x="458.8 504.43 550.26" y="0">300</text>
<text class="tk" font-size="73.5" transform="translate(0 1538.3) scale(0.925 1)" x="808.21 853.9 899.67" y="0">350</text>
<text class="tk" font-size="73.5" transform="translate(0 1538.3) scale(0.925 1)" x="1151.9 1197.4 1243.24" y="0">400</text>
<text class="tk" font-size="73.5" transform="translate(0 1538.3) scale(0.925 1)" x="1501.2 1546.88 1592.64" y="0">450</text>
<text class="tk" font-size="73.5" transform="translate(0 1538.3) scale(0.925 1)" x="1850.44 1896.1 1941.94" y="0">500</text>
<text class="tk" font-size="73.5" transform="translate(0 1538.3) scale(0.925 1)" x="2199.74 2245.58 2291.35" y="0">550</text>
<text class="tk" font-size="73.5" clip-path="url(#k0)" transform="translate(0 178.3) scale(0.925 1)" x="208.21 251.2 269.62" y="0">1.0</text>
<text class="tk" font-size="73.5" transform="translate(0 437.3) scale(0.925 1)" x="206.59 251.2 269.62" y="0">0.8</text>
<text class="tk" font-size="73.5" transform="translate(0 696.3) scale(0.925 1)" x="206.59 251.2 269.36" y="0">0.6</text>
<text class="tk" font-size="73.5" transform="translate(0 956.3) scale(0.925 1)" x="206.59 251.2 269.85" y="0">0.4</text>
<text class="tk" font-size="73.5" transform="translate(0 1215.3) scale(0.925 1)" x="206.59 251.2 269.62" y="0">0.2</text>
<text class="tk" font-size="73.5" transform="translate(0 1475.3) scale(0.925 1)" x="206.59 251.2 269.62" y="0">0.0</text>
<text class="ti" font-size="116.4" x="740.86 850.96 919.65 977.8 1042.09 1076.95 1145.05 1215.04 1284.33 1324.38 1389.11 1421.8 1462.25 1536.04 1635.59" y="1723.11">Wavelength (nm)</text>
<text class="lg" font-size="79.6" clip-path="url(#k1)" x="1570.26 1631.66 1672.71 1751.87 1801.26 1847.03 1900.11 1949.66 1993.93 2022.86" y="109.47">Compound 1</text>
<text class="lg" font-size="79.6" x="1570.26 1631.66 1672.71 1751.87 1801.26 1847.03 1900.11 1949.66 1993.93 2018.1" y="215.47">Compound 2</text>
<text class="lg" font-size="78" x="1570.34 1631.72 1672.82 1751.97 1801.32 1847.13 1900.22 1949.72 1993.1 2019.13" y="315.49">Compound 3</text>
</g>
<g filter="url(#cv)">
<text class="ti" font-size="116.4" transform="translate(113.3 0) rotate(-90)" x="-1329.55 -1246.29 -1175.73 -1133.13 -1032.04 -960.04 -927.89 -899.82 -839.24 -774.89 -710.15 -676.73 -592.4 -520.74 -462.54 -429.62 -391.04 -321.73 -287.56 -221.43 -184.58" y="0">Normalized Abs (a.u.)</text>
</g>
<g shape-rendering="crispEdges">
<path fill="#000" d="M316 25.5H2101.29V36.09H316ZM316 1449.59H2101.29V1460.17H316ZM316 25.5H326.6V1460.17H316ZM2090.7 25.5H2101.29V1460.17H2090.7ZM480.23 1428.41H490.82V1449.59H480.23ZM803.38 1428.41H813.97V1449.59H803.38ZM1126.53 1428.41H1137.13V1449.59H1126.53ZM1444.39 1428.41H1454.98V1449.59H1444.39ZM1767.54 1428.41H1778.14V1449.59H1767.54ZM326.6 152.56H353.08V163.14H326.6ZM326.6 411.96H353.08V422.55H326.6ZM326.6 671.37H353.08V681.96H326.6ZM326.6 930.77H353.08V941.36H326.6ZM326.6 1190.18H353.08V1200.77H326.6Z"/>
<path fill="#000" d="M951.71 152.56H983.5V157.85H951.71ZM941.12 157.85H994.09V163.14H941.12ZM935.82 163.14H999.39V168.44H935.82ZM930.52 168.44H957.01V173.73H930.52ZM983.5 168.44H1004.69V173.73H983.5ZM925.22 173.73H946.41V179.03H925.22ZM988.8 173.73H1009.99V179.03H988.8ZM919.93 179.03H935.82V184.32H919.93ZM994.09 179.03H1015.28V184.32H994.09ZM914.63 184.32H935.82V189.61H914.63ZM999.39 184.32H1015.28V189.61H999.39ZM914.63 189.61H930.52V194.91H914.63ZM1004.69 189.61H1020.58V200.2H1004.69ZM909.33 194.91H930.52V200.2H909.33ZM904.03 200.2H925.22V205.5H904.03ZM1009.99 200.2H1025.88V210.79H1009.99ZM904.03 205.5H919.93V210.79H904.03ZM898.74 210.79H919.93V216.08H898.74ZM1009.99 210.79H1031.18V216.08H1009.99ZM898.74 216.08H914.63V221.38H898.74ZM1015.28 216.08H1031.18V226.67H1015.28ZM893.44 221.38H914.63V226.67H893.44ZM893.44 226.67H909.33V231.97H893.44ZM1020.58 226.67H1036.47V242.55H1020.58ZM888.14 231.97H909.33V237.26H888.14ZM888.14 237.26H904.03V242.55H888.14ZM882.84 242.55H904.03V247.85H882.84ZM1020.58 242.55H1041.77V247.85H1020.58ZM882.84 247.85H898.74V258.44H882.84ZM1025.88 247.85H1041.77V263.73H1025.88ZM877.55 258.44H898.74V263.73H877.55ZM877.55 263.73H893.44V269.02H877.55ZM1031.18 263.73H1047.07V284.91H1031.18ZM872.25 269.02H893.44V274.32H872.25ZM872.25 274.32H888.14V284.91H872.25ZM866.95 284.91H888.14V290.2H866.95ZM1036.47 284.91H1052.37V300.79H1036.47ZM866.95 290.2H882.84V295.49H866.95ZM861.65 295.49H882.84V300.79H861.65ZM861.65 300.79H877.55V306.08H861.65ZM1036.47 300.79H1057.66V306.08H1036.47ZM856.36 306.08H877.55V311.38H856.36ZM1041.77 306.08H1057.66V327.26H1041.77ZM856.36 311.38H872.25V321.96H856.36ZM851.06 321.96H866.95V332.55H851.06ZM1041.77 327.26H1062.96V332.55H1041.77ZM845.76 332.55H866.95V337.85H845.76ZM1047.07 332.55H1062.96V353.73H1047.07ZM845.76 337.85H861.65V348.43H845.76ZM840.46 348.43H861.65V353.73H840.46ZM840.46 353.73H856.36V364.32H840.46ZM1047.07 353.73H1068.26V359.02H1047.07ZM1052.37 359.02H1068.26V385.49H1052.37ZM835.16 364.32H856.36V369.61H835.16ZM835.16 369.61H851.06V374.9H835.16ZM829.87 374.9H851.06V380.2H829.87ZM829.87 380.2H845.76V390.79H829.87ZM1057.66 385.49H1073.56V411.96H1057.66ZM824.57 390.79H845.76V396.08H824.57ZM824.57 396.08H840.46V401.37H824.57ZM819.27 401.37H840.46V406.67H819.27ZM819.27 406.67H835.16V417.26H819.27ZM1062.96 411.96H1078.85V433.14H1062.96ZM813.97 417.26H835.16V422.55H813.97ZM813.97 422.55H829.87V433.14H813.97ZM808.68 433.14H829.87V438.43H808.68ZM1062.96 433.14H1084.15V438.43H1062.96ZM808.68 438.43H824.57V449.02H808.68ZM1068.26 438.43H1084.15V459.61H1068.26ZM803.38 449.02H824.57V454.31H803.38ZM803.38 454.31H819.27V464.9H803.38ZM1068.26 459.61H1089.45V464.9H1068.26ZM798.08 464.9H819.27V470.2H798.08ZM1073.56 464.9H1089.45V491.37H1073.56ZM798.08 470.2H813.97V486.08H798.08ZM792.78 486.08H813.97V491.37H792.78ZM792.78 491.37H808.68V501.96H792.78ZM1078.85 491.37H1094.75V517.84H1078.85ZM787.49 501.96H808.68V507.25H787.49ZM787.49 507.25H803.38V517.84H787.49ZM782.19 517.84H803.38V523.14H782.19ZM1084.15 517.84H1100.04V544.31H1084.15ZM782.19 523.14H798.08V533.72H782.19ZM776.89 533.72H798.08V539.02H776.89ZM776.89 539.02H792.78V549.61H776.89ZM1089.45 544.31H1105.34V565.49H1089.45ZM771.59 549.61H792.78V554.9H771.59ZM771.59 554.9H787.49V560.19H771.59ZM766.3 560.19H787.49V565.49H766.3ZM766.3 565.49H782.19V576.08H766.3ZM1089.45 565.49H1110.64V570.78H1089.45ZM1094.75 570.78H1110.64V591.96H1094.75ZM761 576.08H782.19V581.37H761ZM761 581.37H776.89V591.96H761ZM755.7 591.96H776.89V597.25H755.7ZM1100.04 591.96H1115.94V613.13H1100.04ZM755.7 597.25H771.59V607.84H755.7ZM750.4 607.84H771.59V613.13H750.4ZM750.4 613.13H766.3V629.02H750.4ZM1100.04 613.13H1121.24V618.43H1100.04ZM1105.34 618.43H1121.24V634.31H1105.34ZM745.11 629.02H761V644.9H745.11ZM1105.34 634.31H1126.53V639.6H1105.34ZM1110.64 639.6H1126.53V660.78H1110.64ZM739.81 644.9H761V650.19H739.81ZM739.81 650.19H755.7V666.07H739.81ZM1110.64 660.78H1131.83V666.07H1110.64ZM734.51 666.07H755.7V671.37H734.51ZM1115.94 666.07H1131.83V681.96H1115.94ZM734.51 671.37H750.4V681.96H734.51ZM729.21 681.96H750.4V687.25H729.21ZM1115.94 681.96H1137.13V687.25H1115.94ZM729.21 687.25H745.11V703.13H729.21ZM1121.24 687.25H1137.13V703.13H1121.24ZM723.92 703.13H745.11V708.43H723.92ZM1121.24 703.13H1142.43V708.43H1121.24ZM723.92 708.43H739.81V724.31H723.92ZM1126.53 708.43H1142.43V724.31H1126.53ZM718.62 724.31H739.81V729.6H718.62ZM1126.53 724.31H1147.72V729.6H1126.53ZM718.62 729.6H734.51V745.48H718.62ZM1131.83 729.6H1147.72V750.78H1131.83ZM713.32 745.48H734.51V750.78H713.32ZM713.32 750.78H729.21V766.66H713.32ZM1131.83 750.78H1153.02V756.07H1131.83ZM1137.13 756.07H1153.02V771.95H1137.13ZM708.02 766.66H723.92V782.54H708.02ZM1137.13 771.95H1158.32V777.25H1137.13ZM1142.43 777.25H1158.32V798.42H1142.43ZM702.72 782.54H723.92V787.84H702.72ZM702.72 787.84H718.62V803.72H702.72ZM1142.43 798.42H1163.62V803.72H1142.43ZM697.43 803.72H718.62V809.01H697.43ZM1147.72 803.72H1163.62V824.89H1147.72ZM697.43 809.01H713.32V819.6H697.43ZM692.13 819.6H713.32V824.89H692.13ZM692.13 824.89H708.02V840.78H692.13ZM1147.72 824.89H1168.91V830.19H1147.72ZM1153.02 830.19H1168.91V851.36H1153.02ZM686.83 840.78H708.02V846.07H686.83ZM686.83 846.07H702.72V861.95H686.83ZM1153.02 851.36H1174.21V856.66H1153.02ZM1158.32 856.66H1174.21V877.83H1158.32ZM681.53 861.95H702.72V867.25H681.53ZM681.53 867.25H697.43V877.83H681.53ZM676.24 877.83H697.43V883.13H676.24ZM1158.32 877.83H1179.51V883.13H1158.32ZM676.24 883.13H692.13V893.72H676.24ZM1163.62 883.13H1179.51V909.6H1163.62ZM670.94 893.72H692.13V899.01H670.94ZM670.94 899.01H686.83V914.89H670.94ZM1163.62 909.6H1184.81V914.89H1163.62ZM665.64 914.89H686.83V920.19H665.64ZM1168.91 914.89H1184.81V936.07H1168.91ZM665.64 920.19H681.53V930.77H665.64ZM660.34 930.77H681.53V936.07H660.34ZM660.34 936.07H676.24V946.66H660.34ZM1168.91 936.07H1190.1V941.36H1168.91ZM1174.21 941.36H1190.1V978.42H1174.21ZM655.05 946.66H676.24V951.95H655.05ZM655.05 951.95H670.94V962.54H655.05ZM649.75 962.54H670.94V967.83H649.75ZM649.75 967.83H665.64V983.71H649.75ZM1179.51 978.42H1195.4V1015.48H1179.51ZM644.45 983.71H665.64V989.01H644.45ZM644.45 989.01H660.34V1004.89H644.45ZM639.15 1004.89H660.34V1010.18H639.15ZM639.15 1010.18H655.05V1015.48H639.15ZM633.86 1015.48H655.05V1020.77H633.86ZM1179.51 1015.48H1200.7V1020.77H1179.51ZM633.86 1020.77H649.75V1026.07H633.86ZM1184.81 1020.77H1200.7V1047.24H1184.81ZM628.56 1026.07H649.75V1031.36H628.56ZM628.56 1031.36H644.45V1036.65H628.56ZM623.26 1036.65H644.45V1041.95H623.26ZM623.26 1041.95H639.15V1047.24H623.26ZM617.96 1047.24H639.15V1052.54H617.96ZM1184.81 1047.24H1206V1052.54H1184.81ZM617.96 1052.54H633.86V1057.83H617.96ZM1190.1 1052.54H1206V1079.01H1190.1ZM612.67 1057.83H633.86V1063.12H612.67ZM612.67 1063.12H628.56V1068.42H612.67ZM607.37 1068.42H628.56V1073.71H607.37ZM607.37 1073.71H623.26V1079.01H607.37ZM602.07 1079.01H623.26V1084.3H602.07ZM1195.4 1079.01H1211.29V1116.06H1195.4ZM602.07 1084.3H617.96V1089.59H602.07ZM596.77 1089.59H617.96V1094.89H596.77ZM591.48 1094.89H612.67V1100.18H591.48ZM586.18 1100.18H607.37V1105.48H586.18ZM586.18 1105.48H602.07V1110.77H586.18ZM580.88 1110.77H596.77V1116.06H580.88ZM575.58 1116.06H596.77V1121.36H575.58ZM1200.7 1116.06H1216.59V1153.12H1200.7ZM570.28 1121.36H591.48V1126.65H570.28ZM564.99 1126.65H586.18V1131.95H564.99ZM564.99 1131.95H580.88V1137.24H564.99ZM554.39 1137.24H575.58V1142.53H554.39ZM549.09 1142.53H570.28V1147.83H549.09ZM549.09 1147.83H564.99V1153.12H549.09ZM543.8 1153.12H564.99V1158.42H543.8ZM1200.7 1153.12H1221.89V1158.42H1200.7ZM321.3 1158.42H337.19V1163.71H321.3ZM538.5 1158.42H559.69V1163.71H538.5ZM1206 1158.42H1221.89V1190.18H1206ZM321.3 1163.71H342.49V1169H321.3ZM533.2 1163.71H554.39V1169H533.2ZM321.3 1169H353.08V1174.3H321.3ZM533.2 1169H549.09V1174.3H533.2ZM331.89 1174.3H353.08V1179.59H331.89ZM527.9 1174.3H549.09V1179.59H527.9ZM337.19 1179.59H363.68V1184.89H337.19ZM522.61 1179.59H543.8V1184.89H522.61ZM347.79 1184.89H368.98V1190.18H347.79ZM517.31 1184.89H538.5V1190.18H517.31ZM353.08 1190.18H368.98V1195.47H353.08ZM517.31 1190.18H533.2V1195.47H517.31ZM1206 1190.18H1227.19V1195.47H1206ZM358.38 1195.47H374.27V1206.06H358.38ZM512.01 1195.47H533.2V1200.77H512.01ZM1211.29 1195.47H1227.19V1227.24H1211.29ZM506.71 1200.77H527.9V1206.06H506.71ZM358.38 1206.06H379.57V1211.36H358.38ZM506.71 1206.06H522.61V1211.36H506.71ZM363.68 1211.36H379.57V1216.65H363.68ZM501.42 1211.36H522.61V1216.65H501.42ZM368.98 1216.65H384.87V1221.94H368.98ZM496.12 1216.65H517.31V1221.94H496.12ZM368.98 1221.94H390.17V1227.24H368.98ZM490.82 1221.94H512.01V1227.24H490.82ZM374.27 1227.24H395.46V1232.53H374.27ZM485.52 1227.24H506.71V1232.53H485.52ZM1211.29 1227.24H1232.48V1232.53H1211.29ZM379.57 1232.53H395.46V1243.12H379.57ZM480.23 1232.53H501.42V1237.83H480.23ZM1216.59 1232.53H1232.48V1259H1216.59ZM474.93 1237.83H496.12V1243.12H474.93ZM384.87 1243.12H400.76V1248.41H384.87ZM469.63 1243.12H490.82V1248.41H469.63ZM384.87 1248.41H406.06V1253.71H384.87ZM464.33 1248.41H485.52V1253.71H464.33ZM390.17 1253.71H411.36V1259H390.17ZM459.04 1253.71H480.23V1259H459.04ZM395.46 1259H411.36V1264.3H395.46ZM448.44 1259H474.93V1264.3H448.44ZM1216.59 1259H1237.78V1264.3H1216.59ZM400.76 1264.3H416.65V1269.59H400.76ZM443.14 1264.3H469.63V1269.59H443.14ZM1221.89 1264.3H1237.78V1290.77H1221.89ZM406.06 1269.59H464.33V1274.88H406.06ZM406.06 1274.88H453.74V1280.18H406.06ZM411.36 1280.18H448.44V1285.47H411.36ZM1227.19 1290.77H1243.08V1317.24H1227.19ZM1227.19 1317.24H1248.38V1322.53H1227.19ZM1232.48 1322.53H1248.38V1338.41H1232.48ZM1232.48 1338.41H1253.68V1343.71H1232.48ZM1237.78 1343.71H1253.68V1359.59H1237.78ZM1237.78 1359.59H1258.97V1364.88H1237.78ZM1243.08 1364.88H1258.97V1380.76H1243.08ZM1243.08 1380.76H1264.27V1386.06H1243.08ZM1248.38 1386.06H1264.27V1396.65H1248.38ZM1248.38 1396.65H1269.57V1401.94H1248.38ZM1253.68 1401.94H1269.57V1407.23H1253.68ZM1253.68 1407.23H1274.87V1412.53H1253.68ZM1258.97 1412.53H1274.87V1417.82H1258.97ZM1258.97 1417.82H1280.16V1423.12H1258.97ZM1264.27 1423.12H1280.16V1428.41H1264.27ZM1264.27 1428.41H1285.46V1433.7H1264.27ZM1269.57 1433.7H1290.76V1439H1269.57ZM1274.87 1439H1296.06V1444.29H1274.87ZM1280.16 1444.29H1311.95V1449.59H1280.16ZM1285.46 1449.59H2095.99V1454.88H1285.46Z"/>
<path fill="#f00" d="M914.63 152.56H930.52V157.85H914.63ZM909.33 157.85H935.82V163.14H909.33ZM904.03 163.14H941.12V168.44H904.03ZM898.74 168.44H919.93V173.73H898.74ZM925.22 168.44H941.12V173.73H925.22ZM893.44 173.73H914.63V179.03H893.44ZM925.22 173.73H946.41V179.03H925.22ZM893.44 179.03H909.33V184.32H893.44ZM930.52 179.03H946.41V189.61H930.52ZM888.14 184.32H904.03V189.61H888.14ZM882.84 189.61H904.03V194.91H882.84ZM930.52 189.61H951.71V194.91H930.52ZM882.84 194.91H898.74V200.2H882.84ZM935.82 194.91H951.71V205.5H935.82ZM877.55 200.2H893.44V205.5H877.55ZM872.25 205.5H893.44V210.79H872.25ZM935.82 205.5H957.01V210.79H935.82ZM872.25 210.79H888.14V216.08H872.25ZM941.12 210.79H957.01V231.97H941.12ZM824.57 216.08H835.16V221.38H824.57ZM866.95 216.08H888.14V221.38H866.95ZM813.97 221.38H845.76V226.67H813.97ZM861.65 221.38H882.84V226.67H861.65ZM813.97 226.67H877.55V231.97H813.97ZM803.38 231.97H829.87V237.26H803.38ZM835.16 231.97H872.25V237.26H835.16ZM941.12 231.97H962.31V237.26H941.12ZM803.38 237.26H819.27V242.55H803.38ZM840.46 237.26H866.95V242.55H840.46ZM946.41 237.26H962.31V258.44H946.41ZM798.08 242.55H819.27V247.85H798.08ZM798.08 247.85H813.97V258.44H798.08ZM792.78 258.44H808.68V269.02H792.78ZM946.41 258.44H967.6V263.73H946.41ZM951.71 263.73H967.6V290.2H951.71ZM787.49 269.02H808.68V274.32H787.49ZM787.49 274.32H803.38V284.91H787.49ZM782.19 284.91H803.38V290.2H782.19ZM782.19 290.2H798.08V300.79H782.19ZM951.71 290.2H972.9V295.49H951.71ZM957.01 295.49H972.9V321.96H957.01ZM776.89 300.79H798.08V306.08H776.89ZM776.89 306.08H792.78V316.67H776.89ZM771.59 316.67H792.78V321.96H771.59ZM771.59 321.96H787.49V332.55H771.59ZM957.01 321.96H978.2V327.26H957.01ZM962.31 327.26H978.2V364.32H962.31ZM766.3 332.55H787.49V337.85H766.3ZM766.3 337.85H782.19V348.43H766.3ZM761 348.43H782.19V353.73H761ZM761 353.73H776.89V364.32H761ZM755.7 364.32H776.89V369.61H755.7ZM967.6 364.32H983.5V396.08H967.6ZM755.7 369.61H771.59V380.2H755.7ZM750.4 380.2H771.59V385.49H750.4ZM750.4 385.49H766.3V401.37H750.4ZM967.6 396.08H988.8V401.37H967.6ZM745.11 401.37H766.3V406.67H745.11ZM972.9 401.37H988.8V433.14H972.9ZM745.11 406.67H761V417.26H745.11ZM739.81 417.26H761V422.55H739.81ZM739.81 422.55H755.7V433.14H739.81ZM734.51 433.14H755.7V438.43H734.51ZM972.9 433.14H994.09V438.43H972.9ZM734.51 438.43H750.4V449.02H734.51ZM978.2 438.43H994.09V459.61H978.2ZM729.21 449.02H750.4V454.31H729.21ZM729.21 454.31H745.11V470.2H729.21ZM978.2 459.61H999.39V464.9H978.2ZM983.5 464.9H999.39V491.37H983.5ZM723.92 470.2H745.11V475.49H723.92ZM723.92 475.49H739.81V486.08H723.92ZM718.62 486.08H739.81V491.37H718.62ZM718.62 491.37H734.51V507.25H718.62ZM983.5 491.37H1004.69V496.67H983.5ZM988.8 496.67H1004.69V517.84H988.8ZM713.32 507.25H734.51V512.55H713.32ZM713.32 512.55H729.21V528.43H713.32ZM994.09 517.84H1009.99V539.02H994.09ZM708.02 528.43H729.21V533.72H708.02ZM708.02 533.72H723.92V544.31H708.02ZM994.09 539.02H1015.28V544.31H994.09ZM702.72 544.31H723.92V549.61H702.72ZM999.39 544.31H1015.28V560.19H999.39ZM702.72 549.61H718.62V565.49H702.72ZM999.39 560.19H1020.58V565.49H999.39ZM697.43 565.49H718.62V570.78H697.43ZM1004.69 565.49H1020.58V570.78H1004.69ZM697.43 570.78H713.32V591.96H697.43ZM1004.69 570.78H1025.88V576.08H1004.69ZM1009.99 576.08H1025.88V586.66H1009.99ZM1009.99 586.66H1031.18V591.96H1009.99ZM692.13 591.96H713.32V597.25H692.13ZM1015.28 591.96H1031.18V597.25H1015.28ZM692.13 597.25H708.02V613.13H692.13ZM1015.28 597.25H1036.47V602.55H1015.28ZM1020.58 602.55H1036.47V607.84H1020.58ZM1020.58 607.84H1041.77V613.13H1020.58ZM686.83 613.13H708.02V618.43H686.83ZM1025.88 613.13H1041.77V618.43H1025.88ZM686.83 618.43H702.72V634.31H686.83ZM1025.88 618.43H1047.07V623.72H1025.88ZM1031.18 623.72H1052.37V629.02H1031.18ZM1036.47 629.02H1052.37V634.31H1036.47ZM681.53 634.31H702.72V639.6H681.53ZM1036.47 634.31H1057.66V639.6H1036.47ZM681.53 639.6H697.43V655.49H681.53ZM1041.77 639.6H1057.66V644.9H1041.77ZM1041.77 644.9H1062.96V650.19H1041.77ZM1047.07 650.19H1062.96V660.78H1047.07ZM676.24 655.49H697.43V660.78H676.24ZM676.24 660.78H692.13V676.66H676.24ZM1047.07 660.78H1068.26V666.07H1047.07ZM1052.37 666.07H1068.26V671.37H1052.37ZM1052.37 671.37H1073.56V676.66H1052.37ZM670.94 676.66H692.13V681.96H670.94ZM1057.66 676.66H1073.56V687.25H1057.66ZM670.94 681.96H686.83V703.13H670.94ZM1057.66 687.25H1078.85V692.54H1057.66ZM1062.96 692.54H1078.85V703.13H1062.96ZM665.64 703.13H686.83V708.43H665.64ZM1062.96 703.13H1084.15V708.43H1062.96ZM665.64 708.43H681.53V724.31H665.64ZM1068.26 708.43H1084.15V724.31H1068.26ZM660.34 724.31H681.53V729.6H660.34ZM1068.26 724.31H1089.45V729.6H1068.26ZM660.34 729.6H676.24V745.48H660.34ZM1073.56 729.6H1089.45V750.78H1073.56ZM655.05 745.48H676.24V750.78H655.05ZM655.05 750.78H670.94V766.66H655.05ZM1073.56 750.78H1094.75V756.07H1073.56ZM1078.85 756.07H1094.75V782.54H1078.85ZM649.75 766.66H665.64V782.54H649.75ZM644.45 782.54H665.64V787.84H644.45ZM1078.85 782.54H1100.04V787.84H1078.85ZM644.45 787.84H660.34V803.72H644.45ZM1084.15 787.84H1100.04V819.6H1084.15ZM639.15 803.72H660.34V809.01H639.15ZM639.15 809.01H655.05V824.89H639.15ZM1084.15 819.6H1105.34V824.89H1084.15ZM633.86 824.89H655.05V830.19H633.86ZM1089.45 824.89H1105.34V861.95H1089.45ZM633.86 830.19H649.75V846.07H633.86ZM628.56 846.07H649.75V851.36H628.56ZM628.56 851.36H644.45V861.95H628.56ZM623.26 861.95H644.45V867.25H623.26ZM1089.45 861.95H1110.64V867.25H1089.45ZM623.26 867.25H639.15V877.83H623.26ZM1094.75 867.25H1110.64V904.3H1094.75ZM617.96 877.83H639.15V883.13H617.96ZM617.96 883.13H633.86V899.01H617.96ZM612.67 899.01H633.86V904.3H612.67ZM612.67 904.3H628.56V914.89H612.67ZM1094.75 904.3H1115.94V909.6H1094.75ZM1100.04 909.6H1115.94V962.54H1100.04ZM607.37 914.89H628.56V920.19H607.37ZM607.37 920.19H623.26V930.77H607.37ZM602.07 930.77H623.26V936.07H602.07ZM602.07 936.07H617.96V946.66H602.07ZM596.77 946.66H617.96V951.95H596.77ZM596.77 951.95H612.67V962.54H596.77ZM591.48 962.54H612.67V967.83H591.48ZM1100.04 962.54H1121.24V967.83H1100.04ZM591.48 967.83H607.37V978.42H591.48ZM1105.34 967.83H1121.24V1020.77H1105.34ZM586.18 978.42H607.37V983.71H586.18ZM586.18 983.71H602.07V994.3H586.18ZM580.88 994.3H602.07V999.6H580.88ZM580.88 999.6H596.77V1010.18H580.88ZM575.58 1010.18H596.77V1015.48H575.58ZM575.58 1015.48H591.48V1026.07H575.58ZM1110.64 1020.77H1126.53V1063.12H1110.64ZM570.28 1026.07H591.48V1031.36H570.28ZM570.28 1031.36H586.18V1041.95H570.28ZM564.99 1041.95H586.18V1047.24H564.99ZM564.99 1047.24H580.88V1057.83H564.99ZM559.69 1057.83H580.88V1063.12H559.69ZM559.69 1063.12H575.58V1068.42H559.69ZM1110.64 1063.12H1131.83V1068.42H1110.64ZM554.39 1068.42H575.58V1073.71H554.39ZM1115.94 1068.42H1131.83V1110.77H1115.94ZM326.6 1073.71H347.79V1079.01H326.6ZM554.39 1073.71H570.28V1079.01H554.39ZM321.3 1079.01H353.08V1084.3H321.3ZM549.09 1079.01H570.28V1084.3H549.09ZM321.3 1084.3H358.38V1089.59H321.3ZM549.09 1084.3H564.99V1089.59H549.09ZM321.3 1089.59H331.89V1094.89H321.3ZM342.49 1089.59H368.98V1094.89H342.49ZM543.8 1089.59H564.99V1094.89H543.8ZM347.79 1094.89H368.98V1100.18H347.79ZM543.8 1094.89H559.69V1100.18H543.8ZM358.38 1100.18H374.27V1105.48H358.38ZM538.5 1100.18H559.69V1105.48H538.5ZM358.38 1105.48H379.57V1110.77H358.38ZM533.2 1105.48H554.39V1110.77H533.2ZM363.68 1110.77H384.87V1116.06H363.68ZM533.2 1110.77H549.09V1116.06H533.2ZM1115.94 1110.77H1137.13V1116.06H1115.94ZM368.98 1116.06H384.87V1121.36H368.98ZM527.9 1116.06H549.09V1121.36H527.9ZM1121.24 1116.06H1137.13V1158.42H1121.24ZM368.98 1121.36H390.17V1126.65H368.98ZM522.61 1121.36H543.8V1126.65H522.61ZM374.27 1126.65H390.17V1131.95H374.27ZM517.31 1126.65H538.5V1131.95H517.31ZM374.27 1131.95H395.46V1137.24H374.27ZM506.71 1131.95H533.2V1137.24H506.71ZM379.57 1137.24H400.76V1142.53H379.57ZM496.12 1137.24H527.9V1142.53H496.12ZM384.87 1142.53H400.76V1147.83H384.87ZM485.52 1142.53H522.61V1147.83H485.52ZM384.87 1147.83H406.06V1153.12H384.87ZM474.93 1147.83H512.01V1153.12H474.93ZM390.17 1153.12H406.06V1158.42H390.17ZM469.63 1153.12H496.12V1158.42H469.63ZM390.17 1158.42H411.36V1163.71H390.17ZM464.33 1158.42H490.82V1163.71H464.33ZM1121.24 1158.42H1142.43V1163.71H1121.24ZM395.46 1163.71H416.65V1169H395.46ZM459.04 1163.71H480.23V1169H459.04ZM1126.53 1163.71H1142.43V1206.06H1126.53ZM400.76 1169H427.25V1174.3H400.76ZM453.74 1169H474.93V1174.3H453.74ZM406.06 1174.3H432.55V1179.59H406.06ZM443.14 1174.3H464.33V1179.59H443.14ZM416.65 1179.59H459.04V1184.89H416.65ZM421.95 1184.89H453.74V1190.18H421.95ZM427.25 1190.18H448.44V1195.47H427.25ZM1131.83 1206.06H1147.72V1243.12H1131.83ZM1131.83 1243.12H1153.02V1248.41H1131.83ZM1137.13 1248.41H1153.02V1280.18H1137.13ZM1137.13 1280.18H1158.32V1285.47H1137.13ZM1142.43 1285.47H1158.32V1311.94H1142.43ZM1142.43 1311.94H1163.62V1317.24H1142.43ZM1147.72 1317.24H1163.62V1338.41H1147.72ZM1147.72 1338.41H1168.91V1343.71H1147.72ZM1153.02 1343.71H1168.91V1359.59H1153.02ZM1153.02 1359.59H1174.21V1364.88H1153.02ZM1158.32 1364.88H1174.21V1380.76H1158.32ZM1158.32 1380.76H1179.51V1386.06H1158.32ZM1163.62 1386.06H1179.51V1391.35H1163.62ZM1163.62 1391.35H1184.81V1396.65H1163.62ZM1168.91 1396.65H1184.81V1401.94H1168.91ZM1168.91 1401.94H1190.1V1407.23H1168.91ZM1174.21 1407.23H1190.1V1412.53H1174.21ZM1174.21 1412.53H1195.4V1417.82H1174.21ZM1179.51 1417.82H1200.7V1423.12H1179.51ZM1184.81 1423.12H1200.7V1428.41H1184.81ZM1184.81 1428.41H1206V1433.7H1184.81ZM1190.1 1433.7H1216.59V1439H1190.1ZM1195.4 1439H1221.89V1444.29H1195.4ZM1200.7 1444.29H1311.95V1449.59H1200.7ZM1454.98 1444.29H1502.66V1449.59H1454.98ZM1211.29 1449.59H2095.99V1454.88H1211.29Z"/>
<path fill="#009600" d="M904.03 168.44H909.33V173.73H904.03ZM935.82 184.32H941.12V189.61H935.82ZM829.87 221.38H835.16V226.67H829.87ZM819.27 226.67H824.57V231.97H819.27ZM835.16 226.67H840.46V231.97H835.16ZM866.95 226.67H872.25V231.97H866.95ZM851.06 231.97H856.36V237.26H851.06ZM808.68 237.26H813.97V242.55H808.68ZM803.38 247.85H808.68V253.14H803.38ZM962.31 306.08H967.6V311.38H962.31ZM776.89 321.96H782.19V327.26H776.89ZM771.59 343.14H776.89V348.43H771.59ZM967.6 353.73H972.9V359.02H967.6ZM972.9 396.08H978.2V401.37H972.9ZM739.81 443.73H745.11V449.02H739.81ZM983.5 454.31H988.8V459.61H983.5ZM994.09 507.25H999.39V512.55H994.09ZM1025.88 607.84H1031.18V613.13H1025.88ZM1068.26 692.54H1073.56V697.84H1068.26ZM1073.56 719.01H1078.85V724.31H1073.56ZM660.34 750.78H665.64V756.07H660.34ZM1084.15 771.95H1089.45V777.25H1084.15ZM655.05 777.25H660.34V782.54H655.05ZM1089.45 814.31H1094.75V819.6H1089.45ZM639.15 835.48H644.45V840.78H639.15ZM1094.75 835.48H1100.04V840.78H1094.75ZM612.67 920.19H617.96V925.48H612.67ZM607.37 941.36H612.67V946.66H607.37ZM1110.64 989.01H1115.94V994.3H1110.64ZM1115.94 1052.54H1121.24V1057.83H1115.94ZM326.6 1084.3H331.89V1089.59H326.6ZM527.9 1126.65H533.2V1131.95H527.9ZM522.61 1131.95H527.9V1137.24H522.61ZM485.52 1147.83H496.12V1153.12H485.52ZM395.46 1153.12H400.76V1158.42H395.46ZM469.63 1158.42H480.23V1163.71H469.63ZM464.33 1163.71H469.63V1169H464.33ZM459.04 1169H464.33V1174.3H459.04ZM416.65 1174.3H421.95V1179.59H416.65ZM448.44 1179.59H453.74V1184.89H448.44ZM432.55 1184.89H437.84V1190.18H432.55ZM1147.72 1311.94H1153.02V1317.24H1147.72ZM1195.4 1433.7H1200.7V1439H1195.4ZM1200.7 1439H1211.29V1444.29H1200.7Z"/>
<path fill="#00f" d="M702.72 152.56H723.92V157.85H702.72ZM697.43 157.85H723.92V163.14H697.43ZM692.13 163.14H729.21V168.44H692.13ZM686.83 168.44H702.72V173.73H686.83ZM713.32 168.44H734.51V173.73H713.32ZM681.53 173.73H702.72V179.03H681.53ZM718.62 173.73H734.51V184.32H718.62ZM681.53 179.03H697.43V184.32H681.53ZM676.24 184.32H697.43V189.61H676.24ZM718.62 184.32H739.81V189.61H718.62ZM676.24 189.61H692.13V194.91H676.24ZM723.92 189.61H739.81V200.2H723.92ZM670.94 194.91H692.13V200.2H670.94ZM670.94 200.2H686.83V210.79H670.94ZM723.92 200.2H745.11V205.5H723.92ZM729.21 205.5H745.11V221.38H729.21ZM665.64 210.79H686.83V216.08H665.64ZM665.64 216.08H681.53V231.97H665.64ZM729.21 221.38H750.4V226.67H729.21ZM734.51 226.67H750.4V242.55H734.51ZM660.34 231.97H681.53V237.26H660.34ZM660.34 237.26H676.24V247.85H660.34ZM734.51 242.55H755.7V247.85H734.51ZM655.05 247.85H676.24V253.14H655.05ZM739.81 247.85H755.7V269.02H739.81ZM655.05 253.14H670.94V269.02H655.05ZM649.75 269.02H670.94V274.32H649.75ZM739.81 269.02H761V274.32H739.81ZM649.75 274.32H665.64V290.2H649.75ZM745.11 274.32H761V295.49H745.11ZM644.45 290.2H665.64V295.49H644.45ZM644.45 295.49H660.34V316.67H644.45ZM750.4 295.49H766.3V321.96H750.4ZM639.15 316.67H660.34V321.96H639.15ZM639.15 321.96H655.05V343.14H639.15ZM750.4 321.96H771.59V327.26H750.4ZM755.7 327.26H771.59V353.73H755.7ZM633.86 343.14H655.05V348.43H633.86ZM633.86 348.43H649.75V369.61H633.86ZM755.7 353.73H776.89V359.02H755.7ZM761 359.02H776.89V385.49H761ZM628.56 369.61H649.75V374.9H628.56ZM628.56 374.9H644.45V396.08H628.56ZM761 385.49H782.19V390.79H761ZM766.3 390.79H782.19V417.26H766.3ZM623.26 396.08H644.45V401.37H623.26ZM623.26 401.37H639.15V417.26H623.26ZM617.96 417.26H639.15V422.55H617.96ZM766.3 417.26H787.49V422.55H766.3ZM617.96 422.55H633.86V438.43H617.96ZM771.59 422.55H787.49V449.02H771.59ZM612.67 438.43H633.86V443.73H612.67ZM612.67 443.73H628.56V464.9H612.67ZM771.59 449.02H792.78V454.31H771.59ZM776.89 454.31H792.78V480.78H776.89ZM607.37 464.9H628.56V470.2H607.37ZM607.37 470.2H623.26V491.37H607.37ZM776.89 480.78H798.08V486.08H776.89ZM782.19 486.08H798.08V507.25H782.19ZM602.07 491.37H623.26V496.67H602.07ZM602.07 496.67H617.96V517.84H602.07ZM782.19 507.25H803.38V512.55H782.19ZM787.49 512.55H803.38V533.72H787.49ZM596.77 517.84H617.96V523.14H596.77ZM596.77 523.14H612.67V539.02H596.77ZM787.49 533.72H808.68V539.02H787.49ZM591.48 539.02H612.67V544.31H591.48ZM792.78 539.02H808.68V549.61H792.78ZM591.48 544.31H607.37V560.19H591.48ZM792.78 549.61H813.97V554.9H792.78ZM798.08 554.9H813.97V565.49H798.08ZM586.18 560.19H607.37V565.49H586.18ZM586.18 565.49H602.07V581.37H586.18ZM798.08 565.49H819.27V570.78H798.08ZM803.38 570.78H819.27V581.37H803.38ZM580.88 581.37H602.07V586.66H580.88ZM803.38 581.37H824.57V586.66H803.38ZM580.88 586.66H596.77V607.84H580.88ZM808.68 586.66H824.57V597.25H808.68ZM808.68 597.25H829.87V602.55H808.68ZM813.97 602.55H829.87V607.84H813.97ZM575.58 607.84H596.77V613.13H575.58ZM813.97 607.84H835.16V613.13H813.97ZM575.58 613.13H591.48V629.02H575.58ZM819.27 613.13H845.76V618.43H819.27ZM824.57 618.43H851.06V623.72H824.57ZM835.16 623.72H861.65V629.02H835.16ZM570.28 629.02H591.48V634.31H570.28ZM840.46 629.02H866.95V634.31H840.46ZM570.28 634.31H586.18V650.19H570.28ZM845.76 634.31H872.25V639.6H845.76ZM856.36 639.6H882.84V644.9H856.36ZM861.65 644.9H888.14V650.19H861.65ZM564.99 650.19H586.18V655.49H564.99ZM872.25 650.19H893.44V655.49H872.25ZM564.99 655.49H580.88V676.66H564.99ZM877.55 655.49H893.44V676.66H877.55ZM559.69 676.66H575.58V697.84H559.69ZM877.55 676.66H898.74V681.96H877.55ZM882.84 681.96H898.74V713.72H882.84ZM554.39 697.84H575.58V703.13H554.39ZM554.39 703.13H570.28V724.31H554.39ZM882.84 713.72H904.03V719.01H882.84ZM888.14 719.01H904.03V771.95H888.14ZM549.09 724.31H570.28V729.6H549.09ZM549.09 729.6H564.99V750.78H549.09ZM543.8 750.78H564.99V756.07H543.8ZM543.8 756.07H559.69V777.25H543.8ZM888.14 771.95H909.33V777.25H888.14ZM538.5 777.25H559.69V782.54H538.5ZM893.44 777.25H909.33V851.36H893.44ZM538.5 782.54H554.39V809.01H538.5ZM533.2 809.01H554.39V814.31H533.2ZM533.2 814.31H549.09V835.48H533.2ZM342.49 835.48H358.38V840.78H342.49ZM527.9 835.48H549.09V840.78H527.9ZM342.49 840.78H363.68V846.07H342.49ZM527.9 840.78H543.8V867.25H527.9ZM337.19 846.07H363.68V851.36H337.19ZM331.89 851.36H368.98V856.66H331.89ZM893.44 851.36H914.63V856.66H893.44ZM326.6 856.66H347.79V861.95H326.6ZM353.08 856.66H368.98V861.95H353.08ZM898.74 856.66H914.63V936.07H898.74ZM326.6 861.95H342.49V867.25H326.6ZM353.08 861.95H374.27V867.25H353.08ZM321.3 867.25H342.49V872.54H321.3ZM358.38 867.25H374.27V883.13H358.38ZM522.61 867.25H543.8V872.54H522.61ZM321.3 872.54H337.19V883.13H321.3ZM522.61 872.54H538.5V893.72H522.61ZM321.3 883.13H331.89V893.72H321.3ZM358.38 883.13H379.57V888.42H358.38ZM363.68 888.42H379.57V909.6H363.68ZM517.31 893.72H538.5V899.01H517.31ZM517.31 899.01H533.2V920.19H517.31ZM363.68 909.6H384.87V914.89H363.68ZM368.98 914.89H384.87V941.36H368.98ZM512.01 920.19H527.9V941.36H512.01ZM898.74 936.07H919.93V941.36H898.74ZM368.98 941.36H390.17V946.66H368.98ZM506.71 941.36H527.9V946.66H506.71ZM904.03 941.36H919.93V1026.07H904.03ZM374.27 946.66H390.17V973.13H374.27ZM506.71 946.66H522.61V962.54H506.71ZM501.42 962.54H517.31V978.42H501.42ZM374.27 973.13H395.46V978.42H374.27ZM379.57 978.42H395.46V1010.18H379.57ZM496.12 978.42H517.31V983.71H496.12ZM496.12 983.71H512.01V994.3H496.12ZM490.82 994.3H512.01V999.6H490.82ZM490.82 999.6H506.71V1010.18H490.82ZM379.57 1010.18H400.76V1015.48H379.57ZM485.52 1010.18H506.71V1015.48H485.52ZM384.87 1015.48H400.76V1047.24H384.87ZM485.52 1015.48H501.42V1020.77H485.52ZM480.23 1020.77H501.42V1026.07H480.23ZM480.23 1026.07H496.12V1036.65H480.23ZM904.03 1026.07H925.22V1031.36H904.03ZM909.33 1031.36H925.22V1105.48H909.33ZM474.93 1036.65H496.12V1041.95H474.93ZM474.93 1041.95H490.82V1052.54H474.93ZM384.87 1047.24H406.06V1052.54H384.87ZM390.17 1052.54H406.06V1073.71H390.17ZM469.63 1052.54H490.82V1057.83H469.63ZM469.63 1057.83H485.52V1063.12H469.63ZM464.33 1063.12H485.52V1068.42H464.33ZM464.33 1068.42H480.23V1079.01H464.33ZM390.17 1073.71H411.36V1079.01H390.17ZM395.46 1079.01H411.36V1100.18H395.46ZM459.04 1079.01H480.23V1084.3H459.04ZM459.04 1084.3H474.93V1094.89H459.04ZM453.74 1094.89H474.93V1100.18H453.74ZM395.46 1100.18H416.65V1105.48H395.46ZM453.74 1100.18H469.63V1110.77H453.74ZM400.76 1105.48H416.65V1121.36H400.76ZM914.63 1105.48H930.52V1163.71H914.63ZM448.44 1110.77H469.63V1116.06H448.44ZM448.44 1116.06H464.33V1121.36H448.44ZM400.76 1121.36H421.95V1126.65H400.76ZM443.14 1121.36H464.33V1126.65H443.14ZM406.06 1126.65H421.95V1137.24H406.06ZM443.14 1126.65H459.04V1131.95H443.14ZM437.84 1131.95H459.04V1137.24H437.84ZM406.06 1137.24H427.25V1142.53H406.06ZM437.84 1137.24H453.74V1142.53H437.84ZM411.36 1142.53H427.25V1147.83H411.36ZM432.55 1142.53H453.74V1147.83H432.55ZM411.36 1147.83H448.44V1153.12H411.36ZM421.95 1153.12H443.14V1158.42H421.95ZM421.95 1158.42H437.84V1163.71H421.95ZM914.63 1163.71H935.82V1169H914.63ZM919.93 1169H935.82V1221.94H919.93ZM919.93 1221.94H941.12V1227.24H919.93ZM925.22 1227.24H941.12V1274.88H925.22ZM930.52 1274.88H946.41V1317.24H930.52ZM930.52 1317.24H951.71V1322.53H930.52ZM935.82 1322.53H951.71V1349H935.82ZM935.82 1349H957.01V1354.29H935.82ZM941.12 1354.29H957.01V1375.47H941.12ZM941.12 1375.47H962.31V1380.76H941.12ZM946.41 1380.76H962.31V1396.65H946.41ZM951.71 1396.65H967.6V1407.23H951.71ZM951.71 1407.23H972.9V1412.53H951.71ZM957.01 1412.53H972.9V1417.82H957.01ZM957.01 1417.82H978.2V1423.12H957.01ZM962.31 1423.12H978.2V1428.41H962.31ZM962.31 1428.41H983.5V1433.7H962.31ZM967.6 1433.7H988.8V1439H967.6ZM972.9 1439H999.39V1444.29H972.9ZM978.2 1444.29H1047.07V1449.59H978.2ZM988.8 1449.59H2095.99V1454.88H988.8Z"/>
<path fill="#00f" d="M1364.8 78H1556.1V94.05H1364.8ZM1359.6 83.4H1561.3V88.7H1359.6Z"/>
<path fill="#000" d="M1364.8 184.2H1561.3V194.7H1364.8ZM1370 179H1556.1V184.3H1370Z"/>
<path fill="#f00" d="M1364.8 284.5H1561.3V295.1H1364.8ZM1370 295H1550.9V300.4H1370Z"/>
</g>
</svg></body></html>
